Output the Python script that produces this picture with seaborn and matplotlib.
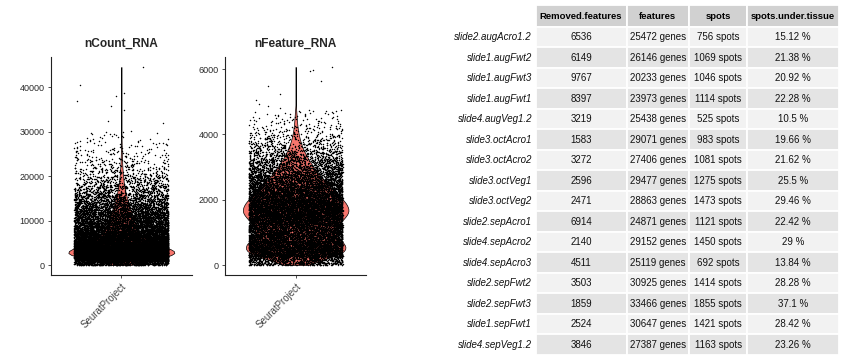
import numpy as np
import pandas as pd
import matplotlib
matplotlib.use("Agg")
import matplotlib.pyplot as plt
from matplotlib.patches import Rectangle
import seaborn as sns

# ---------------- data ----------------
# nCount_RNA: histogram of the bulk (bin edges / counts) + individually read outliers
ncount_edges = [0, 1000, 2000, 3000, 4000, 5000, 6000, 7000, 8000, 9000, 10000,
                12000, 14000, 16000, 18000, 20000, 22000, 24000, 26000, 28000, 30000]
ncount_counts = [900, 2200, 3300, 3000, 2100, 1500, 1200, 1000, 880, 780,
                 1300, 950, 650, 400, 250, 150, 95, 60, 38, 22]
ncount_tail = [44630, 40450, 38740, 38070, 36880, 35910, 34870, 32480, 31890, 30250]

# nFeature_RNA
nfeature_edges = [0, 250, 500, 750, 1000, 1250, 1500, 1750, 2000, 2250, 2500,
                  2750, 3000, 3250, 3500, 3750, 4000, 4250, 4500, 4750]
nfeature_counts = [740, 1680, 1680, 1330, 1300, 1550, 1800, 1700, 1440, 1150,
                   920, 690, 500, 340, 210, 130, 75, 45, 30]
nfeature_tail = [6067, 5967, 5946, 5631, 5479, 5226, 5052, 4921, 4869, 4799]

ident_label = "SeuratProject"
panel_titles = ["nCount_RNA", "nFeature_RNA"]

# table
row_names = ["slide2.augAcro1.2", "slide1.augFwt2", "slide1.augFwt3", "slide1.augFwt1",
             "slide4.augVeg1.2", "slide3.octAcro1", "slide3.octAcro2", "slide3.octVeg1",
             "slide3.octVeg2", "slide2.sepAcro1", "slide4.sepAcro2", "slide4.sepAcro3",
             "slide2.sepFwt2", "slide2.sepFwt3", "slide1.sepFwt1", "slide4.sepVeg1.2"]
col_names = ["Removed.features", "features", "spots", "spots.under.tissue"]
removed_features = [6536, 6149, 9767, 8397, 3219, 1583, 3272, 2596, 2471, 6914,
                    2140, 4511, 3503, 1859, 2524, 3846]
features = [25472, 26146, 20233, 23973, 25438, 29071, 27406, 29477, 28863, 24871,
            29152, 25119, 30925, 33466, 30647, 27387]
spots = [756, 1069, 1046, 1114, 525, 983, 1081, 1275, 1473, 1121, 1450, 692,
         1414, 1855, 1421, 1163]
under_tissue = ["15.12", "21.38", "20.92", "22.28", "10.5", "19.66", "21.62", "25.5",
                "29.46", "22.42", "29", "13.84", "28.28", "37.1", "28.42", "23.26"]


def expand(edges, counts, tail):
    vals = []
    for lo, hi, c in zip(edges[:-1], edges[1:], counts):
        vals.append(lo + (np.arange(c) + 0.5) / c * (hi - lo))
    vals.append(np.asarray(tail, dtype=float))
    return np.concatenate(vals)


ncount = expand(ncount_edges, ncount_counts, ncount_tail)
nfeature = expand(nfeature_edges, nfeature_counts, nfeature_tail)

# ---------------- figure ----------------
sns.set_style("ticks")
plt.rcParams["font.family"] = ["Liberation Sans", "DejaVu Sans"]

W, H = 843, 359
fig = plt.figure(figsize=(W / 100, H / 100), dpi=100)
np.random.seed(3)

tab_ax = fig.add_axes([0, 0, 1, 1])
tab_ax.set_xlim(0, W)
tab_ax.set_ylim(H, 0)
tab_ax.axis("off")
tab_ax.patch.set_alpha(0)

def px_axes(left, top, right, bottom):
    return fig.add_axes([left / W, (H - bottom) / H, (right - left) / W, (bottom - top) / H])

panels = [
    (px_axes(50.7, 57, 192, 275), ncount, [0, 10000, 20000, 30000, 40000]),
    (px_axes(225.3, 57, 366, 275), nfeature, [0, 2000, 4000, 6000]),
]

for (ax, vals, yt), title in zip(panels, panel_titles):
    df = pd.DataFrame({"ident": ident_label, "value": vals})
    sns.violinplot(data=df, x="ident", y="value", color="#F8766D", saturation=1,
                   density_norm="width", cut=0, width=0.9, inner=None,
                   linewidth=0.5, linecolor="black", ax=ax)
    sns.stripplot(data=df, x="ident", y="value", color="black", size=1.05,
                  jitter=0.4, linewidth=0, ax=ax, zorder=3)
    vmin, vmax = vals.min(), vals.max()
    pad = 0.05 * (vmax - vmin)
    ax.set_ylim(vmin - pad, vmax + pad)
    ax.set_xlim(-0.6, 0.6)
    ax.set_yticks(yt)
    ax.set_xlabel("")
    ax.set_ylabel("")
    ax.set_title(title, fontsize=8.6, fontweight="bold", pad=7)
    sns.despine(ax=ax)
    for s in ["left", "bottom"]:
        ax.spines[s].set_linewidth(0.8)
        ax.spines[s].set_color("#222222")
    ax.tick_params(axis="both", length=2.5, width=0.6, color="#333333",
                   labelsize=6.5, labelcolor="#2a2a2a", pad=2)
    for lab in ax.get_xticklabels():
        lab.set_rotation(45)
        lab.set_ha("right")
        lab.set_rotation_mode("anchor")
        lab.set_color("#444444")
        lab.set_fontsize(7.0)

# ---------------- table ----------------
col_x = [535.7, 626.5, 689.3, 747.0, 839.0]
head_top, row_top, row_h = 4.5, 26.8, 20.5
label_right = 532

for j, name in enumerate(col_names):
    x0, x1 = col_x[j], col_x[j + 1]
    tab_ax.add_patch(Rectangle((x0, head_top), x1 - x0, row_top - head_top,
                               facecolor="#D1D1D1", edgecolor="white", lw=1.3))
    tab_ax.text((x0 + x1) / 2, (head_top + row_top) / 2 + 0.5, name, ha="center",
                va="center", fontsize=6.8, fontweight="bold", color="black")

for i, rn in enumerate(row_names):
    y0 = row_top + i * row_h
    yc = y0 + row_h / 2
    fill = "#F2F2F2" if i % 2 == 0 else "#E4E4E4"
    cells = [str(removed_features[i]), f"{features[i]} genes", f"{spots[i]} spots",
             f"{under_tissue[i]} %"]
    for j, txt in enumerate(cells):
        x0, x1 = col_x[j], col_x[j + 1]
        tab_ax.add_patch(Rectangle((x0, y0), x1 - x0, row_h, facecolor=fill,
                                   edgecolor="white", lw=1.3))
        tab_ax.text((x0 + x1) / 2, yc, txt, ha="center", va="center",
                    fontsize=7.0, color="#111111")
    tab_ax.text(label_right, yc, rn, ha="right", va="center", fontsize=7.0,
                fontstyle="italic", color="#111111")

fig.savefig("out.png", dpi=100)
